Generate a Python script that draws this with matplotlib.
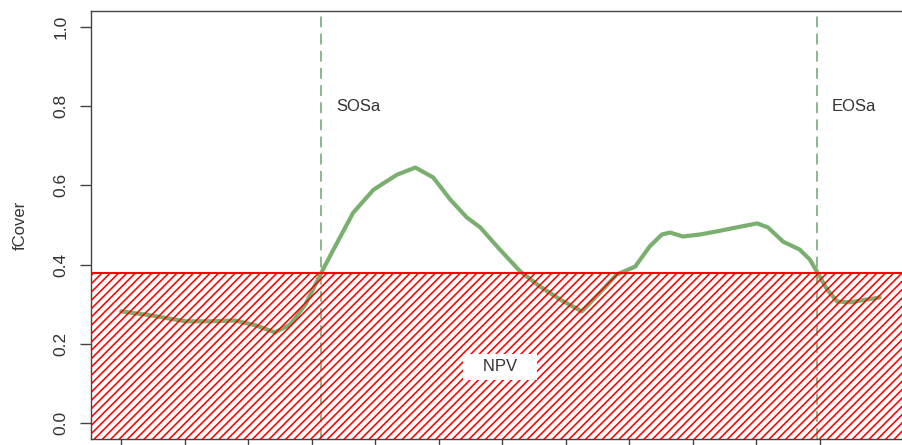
import matplotlib
matplotlib.use("Agg")
import matplotlib.pyplot as plt
import numpy as np

plt.rcParams['font.family'] = ['Liberation Sans', 'DejaVu Sans']
plt.rcParams['hatch.linewidth'] = 1.15
plt.rcParams['hatch.color'] = '#FF0000'

# time axis (tick units) and fCover values
t_vals = [0.0, 0.46, 1.01, 1.40, 1.79, 2.11, 2.42, 2.66, 2.90, 3.15, 3.34, 3.65,
          3.97, 4.34, 4.63, 4.91, 5.18, 5.44, 5.65, 5.96, 6.28, 6.59, 6.91, 7.25,
          7.54, 7.80, 8.09, 8.32, 8.51, 8.64, 8.84, 9.11, 9.38, 9.69, 10.01, 10.18,
          10.42, 10.68, 10.84, 10.95, 11.11, 11.27, 11.47, 11.74, 11.94]
fcover = [0.282, 0.272, 0.257, 0.257, 0.259, 0.247, 0.229, 0.249, 0.300, 0.380,
          0.438, 0.531, 0.589, 0.627, 0.645, 0.620, 0.564, 0.519, 0.494, 0.438,
          0.383, 0.345, 0.312, 0.282, 0.330, 0.375, 0.395, 0.446, 0.476, 0.481,
          0.471, 0.476, 0.484, 0.494, 0.504, 0.494, 0.458, 0.438, 0.413, 0.383,
          0.338, 0.307, 0.305, 0.312, 0.317]

sos_a = 3.15
eos_a = 10.95
npv_level = 0.38
npv_label_pos = (5.96, 0.142)
x_ticks = list(range(0, 12))
y_ticks = [0.0, 0.2, 0.4, 0.6, 0.8, 1.0]
y_ticklabels = ["0.0", "0.2", "0.4", "0.6", "0.8", "1.0"]

fig = plt.figure(figsize=(9.02, 4.45), dpi=100)
ax = fig.add_axes([91/902, 6/445, 819/902, 428/445])

rng = max(t_vals) - min(t_vals)
xlim = (min(t_vals) - 0.04*rng, max(t_vals) + 0.04*rng)
ax.set_xlim(*xlim)
ax.set_ylim(-0.04, 1.04)

green = '#7BAF70'
ax.plot(t_vals, fcover, color=green, lw=3.0, solid_capstyle='round',
        solid_joinstyle='round', zorder=2)

ax.axvline(sos_a, color='#86B286', lw=1.3, dashes=(6, 3.5), zorder=1)
ax.axvline(eos_a, color='#86B286', lw=1.3, dashes=(6, 3.5), zorder=1)

ax.fill_between(list(xlim), [-0.04, -0.04], [npv_level, npv_level],
                facecolor='none', edgecolor='#FF0000', hatch='////', lw=0, zorder=3)
ax.axhline(npv_level, color='#FF0000', lw=1.5, zorder=3)

txt_color = '#333333'
ax.annotate("SOSa", (sos_a, 0.8), xytext=(11, 0), textcoords='offset points',
            ha='left', va='center', fontsize=12, color=txt_color)
ax.annotate("EOSa", (eos_a, 0.8), xytext=(11, 0), textcoords='offset points',
            ha='left', va='center', fontsize=12, color=txt_color)
ax.text(npv_label_pos[0], npv_label_pos[1], "   NPV   ", ha='center', va='center',
        fontsize=12, color=txt_color, zorder=4,
        bbox=dict(boxstyle='square,pad=0.35', facecolor='white', edgecolor='none'))

ax.set_yticks(y_ticks)
ax.set_yticklabels(y_ticklabels, rotation=90, va='center', fontsize=12.5, color=txt_color)
ax.set_xticks(x_ticks)
ax.set_xticklabels([])
ax.tick_params(axis='both', length=8, width=1, color='#444444', pad=8)
ax.set_ylabel("fCover", fontsize=12, color=txt_color)
ax.yaxis.set_label_coords(-63/819, 0.5)

for s in ax.spines.values():
    s.set_color('#444444')
    s.set_linewidth(1.0)

fig.savefig("out.png", dpi=100)
